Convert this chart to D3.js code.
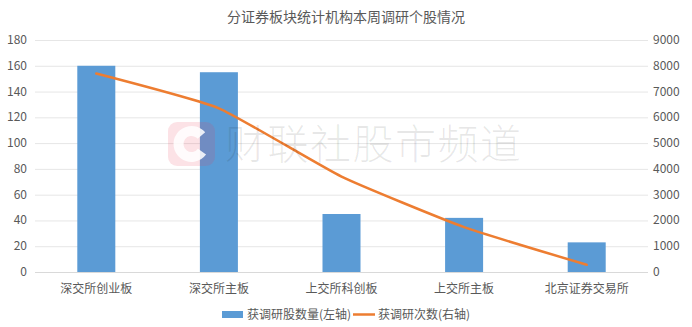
<!DOCTYPE html>
<html><head><meta charset="utf-8">
<script src="https://cdn.jsdelivr.net/npm/d3@7"></script>
<style>body{margin:0;background:#fff}svg{display:block}text{font-family:"Noto Sans CJK SC","Microsoft YaHei",sans-serif}</style>
</head><body><svg id="c" width="692" height="327"></svg>
<script>
const categories = ["深交所创业板","深交所主板","上交所科创板","上交所主板","北京证券交易所"];
const stockCounts = [160,155,45,42,23];
const surveyCounts = [7700,6350,3700,1740,280];
const leftTicks = [0,20,40,60,80,100,120,140,160,180];
const rightTicks = [0,1000,2000,3000,4000,5000,6000,7000,8000,9000];
const title = "分证券板块统计机构本周调研个股情况";
const legendLabels = ["获调研股数量(左轴)","获调研次数(右轴)"];

const svg = d3.select("#c");
const L=35,R=648,T=40,B=272;
const x = d3.scaleBand().domain(categories).range([L,R]).paddingInner(0.69).paddingOuter(0.345);
const yL = d3.scaleLinear().domain([0,180]).range([B,T]);
const yR = d3.scaleLinear().domain([0,9000]).range([B,T]);
const txt="#595959";

svg.append("text").attr("x",346).attr("y",22).attr("text-anchor","middle").attr("font-size",14).attr("fill",txt).text(title);

// grid
svg.append("g").selectAll("line").data(leftTicks).join("line")
 .attr("x1",L).attr("x2",R).attr("y1",d=>yL(d)+0.5).attr("y2",d=>yL(d)+0.5)
 .attr("stroke",d=>d===0?"#d9d9d9":"#e6e6e6").attr("stroke-width",1);

// axis labels
svg.append("g").selectAll("text").data(leftTicks).join("text")
 .attr("x",27).attr("y",d=>yL(d)+4).attr("text-anchor","end").attr("font-size",12).attr("fill",txt)
 .attr("font-family","Liberation Sans, Arial, sans-serif").text(d=>d);
svg.append("g").selectAll("text").data(rightTicks).join("text")
 .attr("x",653).attr("y",d=>yR(d)+4).attr("text-anchor","start").attr("font-size",12).attr("fill",txt)
 .attr("font-family","Liberation Sans, Arial, sans-serif").text(d=>d);

// bars
svg.append("g").selectAll("rect").data(categories).join("rect")
 .attr("x",d=>x(d)).attr("width",x.bandwidth())
 .attr("y",(d,i)=>yL(stockCounts[i])).attr("height",(d,i)=>B-yL(stockCounts[i]))
 .attr("fill","#5b9bd5");

// category labels
svg.append("g").selectAll("text").data(categories).join("text")
 .attr("x",d=>x(d)+x.bandwidth()/2).attr("y",293).attr("text-anchor","middle").attr("font-size",12).attr("fill",txt).text(d=>d);

// line
const line = d3.line().x((d,i)=>x(categories[i])+x.bandwidth()/2).y(d=>yR(d)).curve(d3.curveCardinal.tension(0.55));
svg.append("path").datum(surveyCounts).attr("d",line).attr("fill","none").attr("stroke","#ed7d31").attr("stroke-width",2.5).attr("stroke-linecap","round");

// watermark
const wm = svg.append("g");
wm.append("rect").attr("x",168).attr("y",122).attr("width",47).attr("height",44).attr("rx",9).attr("fill","rgba(235,60,90,0.15)");
wm.append("circle").attr("cx",191.5).attr("cy",144).attr("r",13).attr("fill","none").attr("stroke","rgba(255,255,255,0.85)").attr("stroke-width",10)
  .attr("stroke-dasharray","64 18").attr("transform","rotate(36 191.5 144)");
wm.append("text").attr("x",225).attr("y",159).attr("font-size",41).attr("letter-spacing",1.5).attr("font-weight",300).attr("fill","rgba(0,0,0,0.09)").text("财联社股市频道");

// legend
svg.append("rect").attr("x",222).attr("y",311).attr("width",21).attr("height",7).attr("fill","#5b9bd5");
svg.append("text").attr("x",247).attr("y",319).attr("font-size",12).attr("fill",txt).text(legendLabels[0]);
svg.append("line").attr("x1",353).attr("x2",375).attr("y1",314.5).attr("y2",314.5).attr("stroke","#ed7d31").attr("stroke-width",2.5);
svg.append("text").attr("x",378).attr("y",319).attr("font-size",12).attr("fill",txt).text(legendLabels[1]);
</script></body></html>
